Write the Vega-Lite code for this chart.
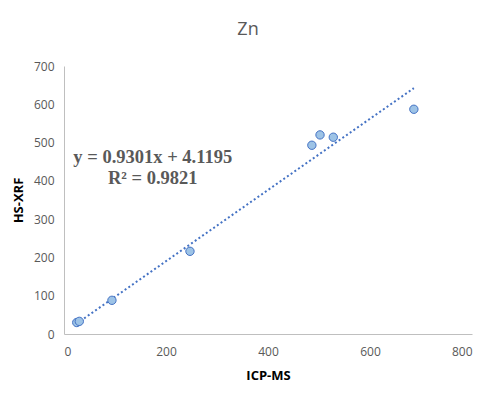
{
  "$schema": "https://vega.github.io/schema/vega-lite/v6.json",
  "width": 408,
  "height": 268,
  "autosize": {"type": "none"},
  "padding": {"left": 64, "top": 66, "right": 21, "bottom": 63},
  "background": "white",
  "title": {
    "text": "Zn",
    "fontSize": 18,
    "font": "Open Sans",
    "fontWeight": "normal",
    "color": "#595959",
    "offset": 21,
    "dx": -20
  },
  "config": {
    "view": {"stroke": null},
    "axis": {
      "grid": false,
      "ticks": false,
      "labelOverlap": false,
      "domainColor": "#BFBFBF",
      "labelColor": "#595959",
      "labelFont": "Open Sans",
      "labelFontSize": 12,
      "titleFont": "Open Sans",
      "titleFontSize": 13,
      "titleFontWeight": "bold",
      "titleColor": "#000000"
    }
  },
  "datasets": {
    "points": [
      {"ICP": 25, "XRF": 30},
      {"ICP": 30, "XRF": 33},
      {"ICP": 94, "XRF": 88},
      {"ICP": 247, "XRF": 216},
      {"ICP": 486, "XRF": 493},
      {"ICP": 502, "XRF": 520},
      {"ICP": 528, "XRF": 514},
      {"ICP": 686, "XRF": 587}
    ],
    "trend": [
      {"ICP": 25, "XRF": 27.37},
      {"ICP": 686, "XRF": 642.17}
    ],
    "labels": [
      {"ICP": 174, "XRF": 462, "text": "y = 0.9301x + 4.1195"},
      {"ICP": 174, "XRF": 407, "text": "R² = 0.9821"}
    ]
  },
  "encoding": {
    "x": {"field": "ICP", "type": "quantitative", "scale": {"domain": [0, 800], "nice": false}, "axis": {"title": "ICP-MS", "values": [0, 200, 400, 600, 800], "labelOverlap": false, "labelPadding": 12, "titlePadding": 12}},
    "y": {"field": "XRF", "type": "quantitative", "scale": {"domain": [0, 700], "nice": false}, "axis": {"title": "HS-XRF", "values": [0, 100, 200, 300, 400, 500, 600, 700], "labelOverlap": false, "labelFlush": false, "labelPadding": 10, "titlePadding": 8}}
  },
  "layer": [
    {
      "data": {"name": "trend"},
      "mark": {"type": "line", "color": "#4472C4", "strokeWidth": 2, "strokeDash": [2, 2.5]}
    },
    {
      "data": {"name": "points"},
      "mark": {"type": "point", "filled": true, "fill": "#9DC3E6", "stroke": "#4472C4", "strokeWidth": 1, "opacity": 1, "fillOpacity": 1, "size": 70, "shape": "circle"}
    },
    {
      "data": {"name": "labels"},
      "mark": {"type": "text", "font": "Liberation Serif", "fontSize": 18.5, "fontWeight": "bold", "color": "#595959", "align": "center", "baseline": "middle"},
      "encoding": {
        "text": {"field": "text"}
      }
    }
  ]
}
